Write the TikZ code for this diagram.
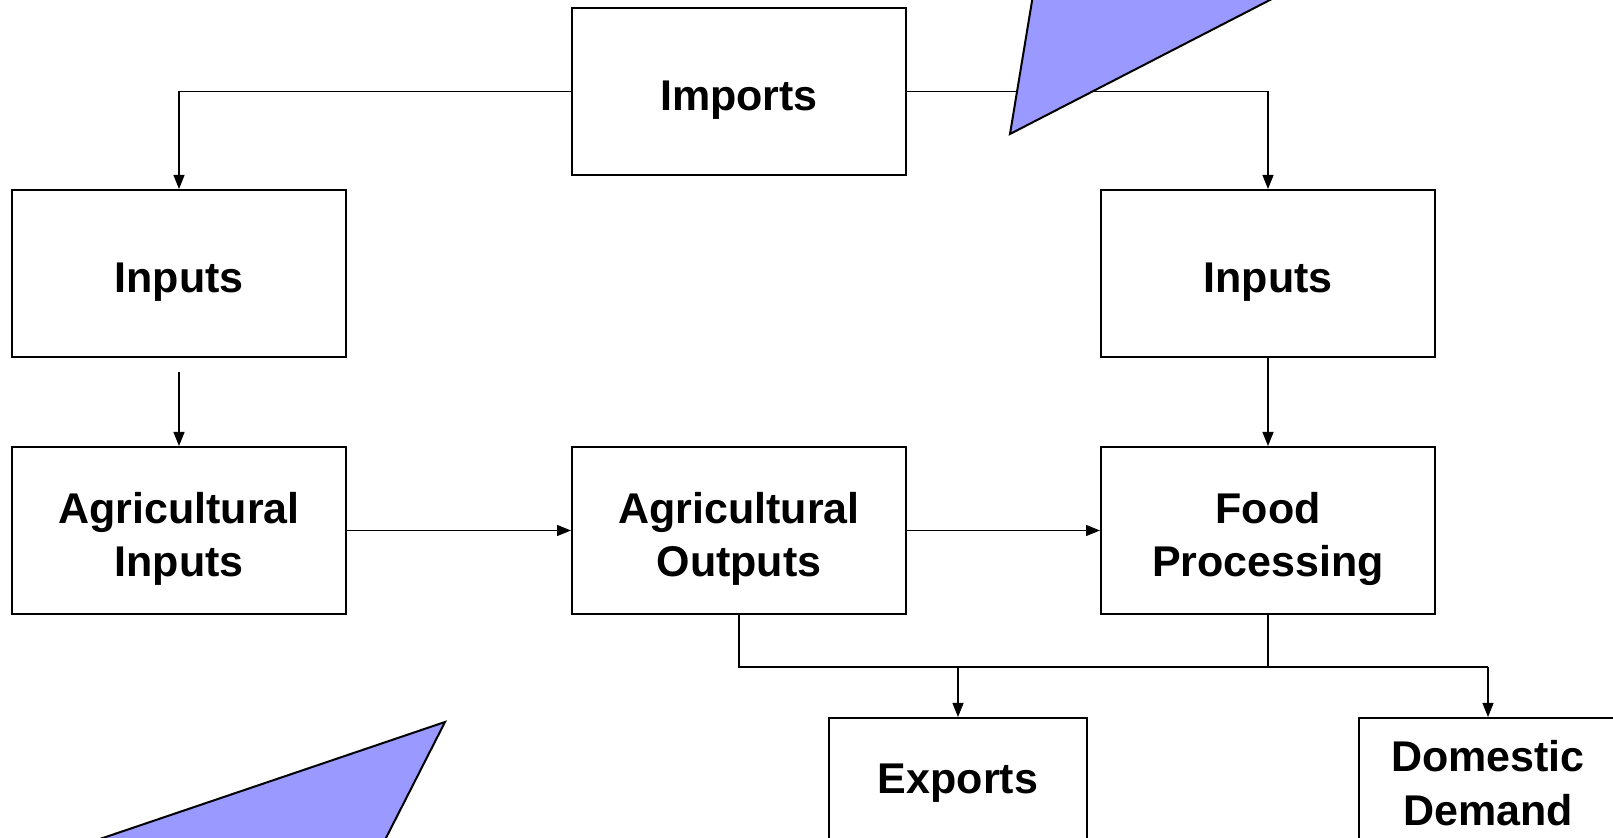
\documentclass[tikz,border=0pt]{standalone}
\usepackage{fontspec}
\setmainfont{Liberation Sans}
\usepackage{xcolor}
\usepackage{tikz}
\usetikzlibrary{positioning, arrows.meta, calc}
\definecolor{wedgeblue}{RGB}{153,153,255}
\def\px{0.5pt}
\tikzset{
    boxtext/.style={inner sep=0pt, align=center,
        font=\fontsize{21.5}{26.75}\selectfont\bfseries},
    box/.style={draw=black, line width=1pt, fill=white, inner sep=0pt,
        minimum width=334*\px, minimum height=167*\px},
    smallbox/.style={box, boxtext, minimum width=258*\px, minimum height=130*\px},
    flow/.style={draw=black, line width=0.6pt, -{Triangle[length=7pt,width=5.5pt]}},
    link/.style={draw=black, line width=0.6pt},
    pennant/.style={draw=black, line width=1pt, fill=wedgeblue, line join=miter}
}

\begin{document}
\begin{tikzpicture}[x=\px, y=-\px]
    \useasboundingbox (0,0) rectangle (1613,838);
    \clip (0,0) rectangle (1613,838);

    % boxes
    \foreach \name/\x/\y/\txt in {
        imp/739/91.5/{Imports},
        inL/179/273.5/{Inputs},
        inR/1268/273.5/{Inputs},
        agIn/179/530.5/{Agricultural\\Inputs},
        agOut/739/530.5/{Agricultural\\Outputs},
        food/1268/530.5/{Food\\Processing}}
    {
        \node[box] (\name) at (\x,\y) {};
        \node[boxtext] (\name-txt) at ([yshift=-4.2pt]\name.center) {\txt};
    }
    \node[smallbox] (exp) at (958,783) {Exports};
    \node[smallbox] (dom) at (1488,783) {Domestic\\Demand};

    % bus under outputs
    \coordinate (busL) at (739,667);
    \coordinate (busR) at (1488,667);

    % arrows
    \draw[flow] (imp.west) -| (inL.north);
    \draw[flow] (imp.east) -| (inR.north);
    \draw[flow, shorten <=7pt] (inL) -- (agIn);
    \draw[flow] (inR) -- (food);
    \draw[flow] (agIn) -- (agOut);
    \draw[flow] (agOut) -- (food);

    \draw[link] (agOut.south) -- (busL) -- (busR);
    \draw[link] (food.south) -- (food.south |- busL);
    \draw[flow] (exp.north |- busL) -- (exp);
    \draw[flow] (busR) -- (dom);

    % triangles
    \draw[pennant] (1010,134) -- (1038.8,-40) -- (1347.5,-40) -- cycle;
    \draw[pennant] (445,722) -- (-21,880) -- (364.6,880) -- cycle;
\end{tikzpicture}
\end{document}
